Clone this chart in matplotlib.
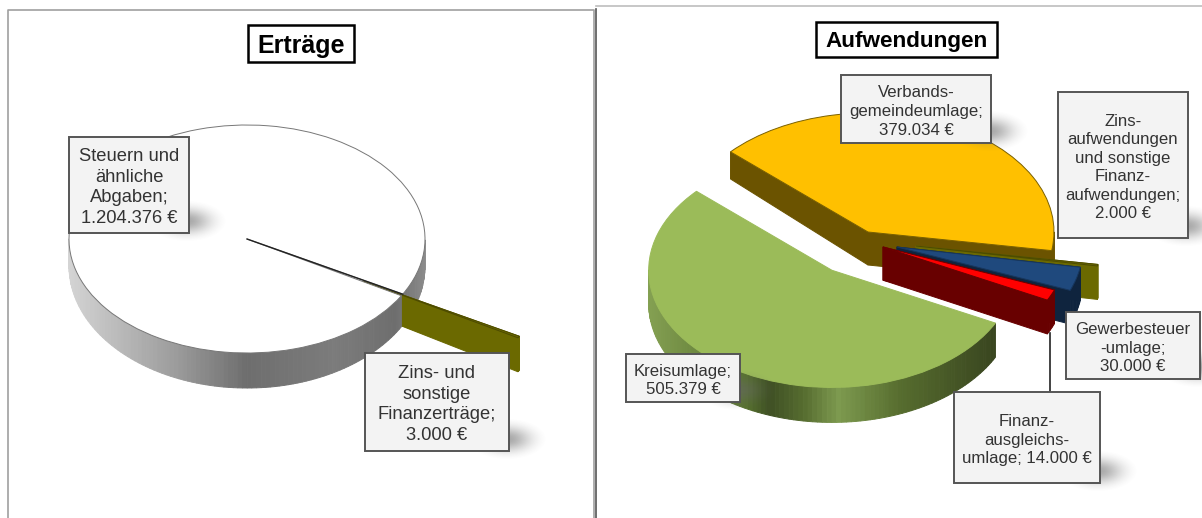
import numpy as np
import matplotlib
matplotlib.use('Agg')
import matplotlib.pyplot as plt
from matplotlib.colors import LinearSegmentedColormap
from matplotlib.patches import Rectangle
from matplotlib.transforms import Affine2D

plt.rcParams['font.family'] = ['Liberation Sans', 'DejaVu Sans']

# left chart
ertraege_values = [1204376, 3000]
ertraege_labels = ['Steuern und\nähnliche\nAbgaben;\n1.204.376 €',
                   'Zins- und\nsonstige\nFinanzerträge;\n3.000 €']
# right chart
aufwand_values = [379034, 505379, 14000, 30000, 2000]
aufwand_labels = ['Verbands-\ngemeindeumlage;\n379.034 €',
                  'Kreisumlage;\n505.379 €',
                  'Finanz-\nausgleichs-\numlage; 14.000 €',
                  'Gewerbesteuer\n-umlage;\n30.000 €',
                  'Zins-\naufwendungen\nund sonstige\nFinanz-\naufwendungen;\n2.000 €']

gray_side = LinearSegmentedColormap.from_list('gray_side', [
    (0, '#d4d4d4'), (.3, '#9c9c9c'), (.5, '#6e6e6e'), (.75, '#7c7c7c'), (.92, '#6e6e6e'), (1, '#8a8a8a')])
green_side = LinearSegmentedColormap.from_list('green_side', [
    (0, '#84a052'), (.27, '#56702f'), (.33, '#3f5024'), (.42, '#556b2f'),
    (.52, '#7d9a4f'), (.69, '#566c2e'), (.94, '#3a4720'), (1, '#38451c')])


def draw_pie(ax, values, colors, walls, edges, start, cx, cy, rx, ry, depth,
             explode, shifts, radii, zorders):
    wedges, _ = ax.pie(values, colors=colors, startangle=start, explode=explode)
    for i, w in enumerate(wedges):
        sx, sy = shifts[i]
        ox, oy = cx + sx, cy + sy
        w.set_radius(radii[i])
        w.set_transform(Affine2D().scale(rx, -ry).translate(ox, oy) + ax.transData)
        w.set_edgecolor(edges[i])
        w.set_linewidth(.7)
        z = zorders[i]
        w.set_zorder(z + .5)

        def pos(r, deg):
            t = np.radians(deg)
            return (ox + (w.center[0] + r * np.cos(t)) * rx,
                    oy - (w.center[1] + r * np.sin(t)) * ry)

        def quad(p, q, color, zz):
            # the wall gets a bit shorter towards the back of the picture
            dp = np.interp(p[1], depth[0], depth[1])
            dq = np.interp(q[1], depth[0], depth[1])
            ax.fill([p[0], q[0], q[0], p[0]],
                    [p[1], q[1], q[1] + dq, p[1] + dp],
                    facecolor=color, edgecolor=color, linewidth=.7, zorder=zz)

        # radial walls
        wall = walls[i] if not callable(walls[i]) else None
        if wall is not None:
            quad(pos(0, w.theta1), pos(w.r, w.theta1), wall, z)
            quad(pos(0, w.theta2), pos(w.r, w.theta2), wall, z)

        # outer side, front half only
        steps = max(2, int((w.theta2 - w.theta1) / 1.5))
        angles = np.linspace(w.theta1, w.theta2, steps + 1)
        for a, b in zip(angles[:-1], angles[1:]):
            mid = (a + b) / 2
            if np.sin(np.radians(mid)) >= 0:
                continue
            color = walls[i](.5 + .5 * np.cos(np.radians(mid))) if callable(walls[i]) else walls[i]
            zz = z + .2
            # the big disc: its side right of the thin slice sits behind that slice
            if callable(walls[i]) and mid % 360 > w.theta2 % 360 and len(values) == 2:
                zz = 1
            quad(pos(w.r, a), pos(w.r, b), color, zz)
    return wedges


def draw_box(ax, text, x0, y0, x1, y1, size=13.2, spacing=1.3):
    # soft shadow at the lower right corner
    xx, yy = np.meshgrid(np.linspace(-1, 1, 80), np.linspace(-1, 1, 50))
    shadow = np.zeros((50, 80, 4))
    shadow[..., :3] = .4
    shadow[..., 3] = .6 * np.exp(-(xx ** 2 + yy ** 2) * 2.8) - .6 * np.exp(-2.8)
    shadow[..., 3] = shadow[..., 3].clip(0, 1)
    ax.imshow(shadow, extent=(x1 - 42, x1 + 38, y1 + 9, y1 - 33), aspect='auto', zorder=19)
    ax.add_patch(Rectangle((x0, y0), x1 - x0, y1 - y0, facecolor='#f3f3f3',
                           edgecolor='#555555', linewidth=1.4, zorder=20))
    ax.text((x0 + x1) / 2, (y0 + y1) / 2 + 2.5, text, ha='center', va='center', color='#333333',
            fontsize=size, linespacing=spacing, zorder=21)


def draw_title(ax, text, x0, y0, x1, y1, size=18):
    ax.add_patch(Rectangle((x0, y0), x1 - x0, y1 - y0, facecolor='white',
                           edgecolor='black', linewidth=1.8, zorder=20))
    ax.text((x0 + x1) / 2, (y0 + y1) / 2 + 2.5, text, ha='center', va='center', color='black',
            fontsize=size, fontweight='bold', zorder=21)


fig = plt.figure(figsize=(12.02, 5.18), dpi=100)
ax = fig.add_axes([0, 0, 1, 1])

# panel frames
ax.plot([7.5, 7.5, 594, 594], [518, 9.5, 9.5, 518], color='#a0a0a0', linewidth=1.2, zorder=0)
ax.plot([596, 1202], [6, 6], color='#bdbdbd', linewidth=1.2, zorder=0)
ax.plot([595.5, 595.5], [9, 518], color='#555555', linewidth=1.2, zorder=0)

# Ertraege pie
left = draw_pie(ax, ertraege_values, ['white', '#6b6900'], [gray_side, '#6b6900'], ['#777777', '#4d4b00'],
                -28.95, 247, 239, 178, 114, ([239, 352], [27, 35]),
                [0, .752], [(0, 0), (0, 0)], [1, 1], [3, 2])
# the dark line where the thin slice was pulled out
edge = np.radians(left[0].theta1)
ax.plot([247, 247 + 178 * np.cos(edge)], [239, 239 - 114 * np.sin(edge)],
        color='#222222', linewidth=1.0, zorder=4)

# Aufwendungen pie
draw_pie(ax, aufwand_values, ['#ffc000', '#9bbb59', '#ff0000', '#1f497d', '#6b6900'],
         ['#6b5300', green_side, '#680000', '#0f243e', '#6b6900'],
         ['#7a6000', '#9bbb59', '#680000', '#17375e', '#4d4b00'],
         -9, 868, 232, 186, 119, ([150, 232, 390], [27, 33, 35]),
         [0, .38, 0, 0, 0],
         [(0, 0), (4, 1), (15, 15), (29, 15), (48, 14)],
         [1, .985, .99, 1, .99],
         [1, 7, 5, 4, 3])

# leader line of the Finanzausgleich label
ax.plot([1050, 1050], [333, 392], color='#222222', linewidth=1.2, zorder=9)

draw_title(ax, 'Erträge', 248, 25, 354, 62)
draw_title(ax, 'Aufwendungen', 816, 22, 997, 57, size=16.2)

draw_box(ax, ertraege_labels[0], 69, 137, 189, 233)
draw_box(ax, ertraege_labels[1], 365, 353, 509, 451)
draw_box(ax, aufwand_labels[0], 841, 75, 991, 143, size=12.1)
draw_box(ax, aufwand_labels[1], 626, 354, 740, 402, size=12.1)
draw_box(ax, aufwand_labels[2], 954, 392, 1100, 483, size=12.1)
draw_box(ax, aufwand_labels[3], 1066, 312, 1200, 379, size=12.1)
draw_box(ax, aufwand_labels[4], 1058, 92, 1188, 238, size=12.1)

ax.set_aspect('auto')
ax.set_xlim(0, 1202)
ax.set_ylim(518, 0)
ax.set_axis_off()

fig.savefig('out.png', dpi=100)
